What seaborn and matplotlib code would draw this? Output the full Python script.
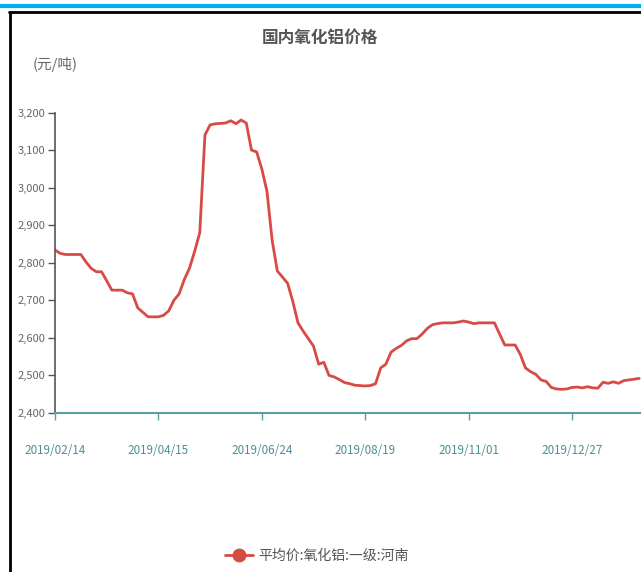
import numpy as np
import pandas as pd
import seaborn as sns
from matplotlib import pyplot as plt
from matplotlib.lines import Line2D

# 平均价:氧化铝:一级:河南 (元/吨)
price = [2834, 2825, 2822, 2822, 2822, 2822, 2802, 2785, 2776, 2776,
         2752, 2727, 2727, 2727, 2720, 2717, 2680, 2668, 2656, 2656,
         2656, 2660, 2672, 2700, 2717, 2755, 2785, 2830, 2880, 3140,
         3167, 3170, 3171, 3172, 3178, 3170, 3180, 3172, 3100, 3095,
         3050, 2990, 2860, 2778, 2762, 2745, 2697, 2640, 2618, 2598,
         2578, 2530, 2535, 2500, 2496, 2489, 2481, 2478, 2474, 2473,
         2472, 2473, 2478, 2520, 2530, 2562, 2572, 2580, 2592, 2598,
         2598, 2610, 2625, 2635, 2638, 2640, 2640, 2640, 2642, 2645,
         2642, 2638, 2640, 2640, 2640, 2640, 2610, 2581, 2581, 2581,
         2556, 2520, 2510, 2503, 2488, 2484, 2468, 2464, 2463, 2464,
         2468, 2469, 2467, 2470, 2467, 2466, 2482, 2479, 2483, 2479,
         2486, 2488, 2490, 2492]
tick_labels = ['2019/02/14', '2019/04/15', '2019/06/24', '2019/08/19',
               '2019/11/01', '2019/12/27']
tick_step = 20
y_ticks = [2400, 2500, 2600, 2700, 2800, 2900, 3000, 3100, 3200]
series_name = '平均价:氧化铝:一级:河南'

df = pd.DataFrame({'idx': np.arange(len(price)), 'price': price})

sns.set_style('white')
plt.rcParams['font.family'] = ['Noto Sans CJK SC', 'DejaVu Sans']

red = '#d84a45'
teal = '#5a9ea5'
grey = '#555555'

fig = plt.figure(figsize=(6.41, 5.72), dpi=100)
ax = fig.add_axes([55 / 641, 1 - 413 / 572, 1 - 55 / 641, (413 - 112.5) / 572])

sns.lineplot(data=df, x='idx', y='price', ax=ax, color=red, linewidth=2.0)

ax.set_xlim(0, (641 - 55) / 5.17)
ax.set_ylim(2400, 3200)
ax.set_xlabel('')
ax.set_ylabel('')

ax.set_xticks([i * tick_step for i in range(len(tick_labels))])
ax.set_xticklabels(tick_labels, fontsize=8.4, color='#4d8e96')
ax.set_yticks(y_ticks)
ax.set_yticklabels([f'{v:,}' for v in y_ticks], fontsize=8, color='#666666')
ax.tick_params(axis='x', length=5, width=1, color=teal, pad=17, bottom=True)
ax.tick_params(axis='y', length=5, width=1, color=grey, pad=2, left=True)

for s in ['top', 'right']:
    ax.spines[s].set_visible(False)
ax.spines['left'].set_color(grey)
ax.spines['left'].set_linewidth(1.2)
ax.spines['bottom'].set_color(teal)
ax.spines['bottom'].set_linewidth(1.5)
ax.spines['bottom'].set_zorder(5)

fig.text(320 / 641, 1 - 38 / 572, '国内氧化铝价格', ha='center', va='center',
         fontsize=12, fontweight='bold', color=grey)
fig.text(33 / 641, 1 - 65 / 572, '(元/吨)', ha='left', va='center',
         fontsize=10.5, color='#666666')

handle = Line2D([], [], color=red, linewidth=2, marker='o', markersize=9)
fig.legend([handle], [series_name], loc='center', bbox_to_anchor=(317 / 641, 1 - 556 / 572),
           frameon=False, fontsize=10, labelcolor=grey, handlelength=2.0, handletextpad=0.4)

# page frame: cyan rule and black border
fig.add_artist(Line2D([0, 1], [1 - 6 / 572, 1 - 6 / 572], color='#00b0f0', linewidth=3))
fig.add_artist(Line2D([9 / 641, 1], [1 - 12 / 572, 1 - 12 / 572], color='black', linewidth=2))
fig.add_artist(Line2D([9.5 / 641, 9.5 / 641], [0, 1 - 12 / 572], color='black', linewidth=2))

fig.savefig('out.png', dpi=100)
